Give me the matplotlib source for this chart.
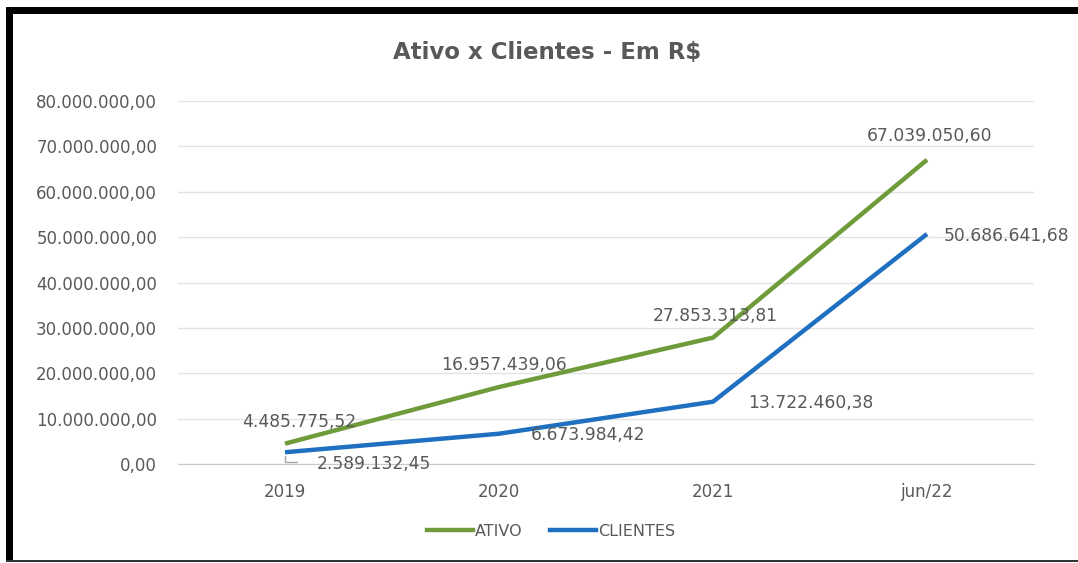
import matplotlib
matplotlib.use("Agg")
import matplotlib.pyplot as plt
from matplotlib.patches import Rectangle
from matplotlib.lines import Line2D

# dados do grafico
categorias = ["2019", "2020", "2021", "jun/22"]
ativo = [4485775.52, 16957439.06, 27853313.81, 67039050.60]
clientes = [2589132.45, 6673984.42, 13722460.38, 50686641.68]
yticks = [0, 10e6, 20e6, 30e6, 40e6, 50e6, 60e6, 70e6, 80e6]

COR_ATIVO = "#6F9B3A"
COR_CLIENTES = "#1F70C1"
CINZA = "#595959"

W, H = 1078, 563


def fmt_br(v):
    s = f"{v:,.2f}"
    return s.replace(",", "X").replace(".", ",").replace("X", ".")


fig = plt.figure(figsize=(W / 100, H / 100), dpi=100)
fig.patch.set_facecolor("white")

# moldura preta do print
fig.add_artist(Rectangle((6 / W, 1 - 14 / H), 1 - 6 / W, 7 / H, transform=fig.transFigure,
                         color="black", lw=0))
fig.add_artist(Rectangle((6 / W, 1 - 561 / H), 7 / W, (561 - 7) / H, transform=fig.transFigure,
                         color="black", lw=0))
fig.add_artist(Rectangle((6 / W, 1 - 562 / H), 1 - 6 / W, 2 / H, transform=fig.transFigure,
                         color="#333333", lw=0))

ax = fig.add_axes([178 / W, 1 - 464 / H, (1034 - 178) / W, (464 - 101) / H])
x = [i + 0.5 for i in range(len(categorias))]

ax.plot(x, ativo, color=COR_ATIVO, lw=3.2, solid_capstyle="butt", zorder=3)
ax.plot(x, clientes, color=COR_CLIENTES, lw=3.2, solid_capstyle="butt", zorder=3)

ax.set_xlim(0, 4)
ax.set_ylim(0, 80e6)
ax.set_yticks(yticks)
ax.set_yticklabels([fmt_br(v) for v in yticks])
ax.set_xticks(x)
ax.set_xticklabels(categorias)
ax.tick_params(axis="y", length=0, pad=15, labelsize=12, labelcolor=CINZA)
ax.tick_params(axis="x", length=0, pad=14, labelsize=12, labelcolor=CINZA)
ax.grid(axis="y", color="#E3E3E3", lw=1)
ax.set_axisbelow(True)
for s in ["top", "right", "left"]:
    ax.spines[s].set_visible(False)
ax.spines["bottom"].set_color("#C8C8C8")

# rotulos de dados
off_ativo = [(14, 22), (5, 22), (2, 22), (2, 24)]
for xi, v, (dx, dy) in zip(x, ativo, off_ativo):
    ax.annotate(fmt_br(v), (xi, v), xytext=(dx, dy), textcoords="offset pixels",
                ha="center", va="center", fontsize=12.3, color=CINZA, zorder=4)

off_cli = [(32, -12), (32, -1), (35, -1), (17, -2)]
for xi, v, (dx, dy) in zip(x, clientes, off_cli):
    ax.annotate(fmt_br(v), (xi, v), xytext=(dx, dy), textcoords="offset pixels",
                ha="left", va="center", fontsize=12.3, color=CINZA, zorder=4)

# linha de chamada do primeiro rotulo
ax.annotate("", xy=(x[0], clientes[0]), xytext=(12, -10), textcoords="offset pixels",
            arrowprops=dict(arrowstyle="-", color="#A6A6A6", lw=1,
                            connectionstyle="angle,angleA=0,angleB=90,rad=0",
                            shrinkA=0, shrinkB=3))

fig.text(547 / W, 1 - 52 / H, "Ativo x Clientes - Em R$", ha="center", va="center",
         fontsize=16.5, fontweight="bold", color=CINZA)

handles = [Line2D([], [], color=COR_ATIVO, lw=3.2),
           Line2D([], [], color=COR_CLIENTES, lw=3.2)]
leg = fig.legend(handles, ["ATIVO", "CLIENTES"], loc="center",
                 bbox_to_anchor=(551 / W, 1 - 531 / H), ncol=2, frameon=False,
                 fontsize=11.5, handlelength=2.9, handletextpad=0.1, columnspacing=1.7)
for t in leg.get_texts():
    t.set_color(CINZA)

fig.savefig("out.png", dpi=100)
